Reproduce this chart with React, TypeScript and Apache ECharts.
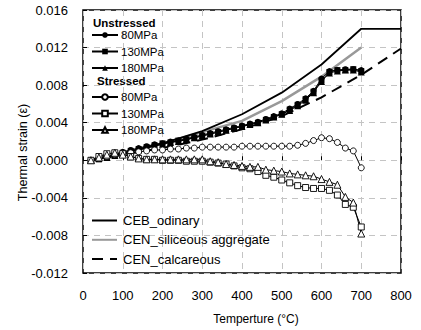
import React, { useEffect, useRef } from "react";
import * as echarts from "echarts";

const TEMPS = [20, 40, 60, 80, 100, 120, 140, 160, 180, 200, 220, 240, 260, 280, 300, 320, 340, 360, 380, 400, 420, 440, 460, 480, 500, 520, 540, 560, 580, 600, 620, 640, 660, 680, 700];

const UNSTRESSED_80 = [0, 0.0002, 0.0004, 0.0006, 0.0009, 0.0011, 0.0013, 0.0015, 0.0017, 0.0018, 0.0020, 0.0021, 0.0023, 0.0025, 0.0027, 0.0029, 0.0031, 0.0033, 0.0035, 0.0037, 0.0039, 0.0041, 0.0044, 0.0047, 0.0050, 0.0055, 0.0060, 0.0066, 0.0074, 0.0087, 0.0095, 0.0096, 0.0097, 0.0097, 0.0096];
const UNSTRESSED_130 = [0, 0.0001, 0.0003, 0.0005, 0.0008, 0.0010, 0.0012, 0.0014, 0.0016, 0.0018, 0.0019, 0.0021, 0.0022, 0.0024, 0.0026, 0.0028, 0.0030, 0.0032, 0.0034, 0.0036, 0.0038, 0.0040, 0.0043, 0.0046, 0.0049, 0.0054, 0.0059, 0.0065, 0.0073, 0.0085, 0.0094, 0.0096, 0.0096, 0.0097, 0.0095];
const UNSTRESSED_180 = [0, 0.0002, 0.0003, 0.0005, 0.0007, 0.0009, 0.0011, 0.0013, 0.0015, 0.0017, 0.0019, 0.0020, 0.0022, 0.0024, 0.0026, 0.0028, 0.0030, 0.0032, 0.0034, 0.0036, 0.0038, 0.0040, 0.0043, 0.0046, 0.0049, 0.0053, 0.0058, 0.0064, 0.0072, 0.0084, 0.0093, 0.0095, 0.0096, 0.0096, 0.0094];

const STRESSED_80 = [0, 0.0002, 0.0004, 0.0006, 0.0007, 0.0008, 0.0009, 0.0010, 0.0011, 0.0011, 0.0012, 0.0012, 0.0013, 0.0013, 0.0014, 0.0014, 0.0014, 0.0014, 0.0014, 0.0015, 0.0015, 0.0015, 0.0015, 0.0015, 0.0015, 0.0015, 0.0016, 0.0018, 0.0021, 0.0024, 0.0023, 0.0019, 0.0013, 0.0010, -0.0008];
const STRESSED_130 = [0, 0.0004, 0.0007, 0.0008, 0.0007, 0.0004, 0.0002, 0.0001, 0.0001, 0.0000, 0.0000, 0.0000, -0.0001, -0.0001, -0.0001, -0.0002, -0.0003, -0.0004, -0.0006, -0.0008, -0.0009, -0.0012, -0.0016, -0.0018, -0.0021, -0.0024, -0.0027, -0.0029, -0.0030, -0.0030, -0.0032, -0.0037, -0.0047, -0.0050, -0.0071];
const STRESSED_180 = [0, 0.0003, 0.0006, 0.0008, 0.0006, 0.0004, 0.0002, 0.0001, 0.0001, 0.0001, 0.0001, 0.0001, 0.0001, 0.0001, 0.0001, -0.0001, -0.0002, -0.0004, -0.0005, -0.0006, -0.0007, -0.0007, -0.0010, -0.0011, -0.0012, -0.0014, -0.0015, -0.0016, -0.0017, -0.0020, -0.0023, -0.0026, -0.0039, -0.0045, -0.0078];

const CODE_TEMPS = [20, 100, 200, 300, 400, 500, 600, 700, 800];
const CEB_ORDINARY = [0, 0.0007, 0.0018, 0.0031, 0.0049, 0.0072, 0.0102, 0.0140, 0.0140];
const SILICEOUS_TEMPS = [20, 100, 200, 300, 400, 500, 600, 700];
const CEN_SILICEOUS = [0, 0.0008, 0.0018, 0.0030, 0.0042, 0.0063, 0.0089, 0.0120];
const CEN_CALCAREOUS = [0, 0.0006, 0.0013, 0.0022, 0.0033, 0.0047, 0.0067, 0.0091, 0.0119];

const X_TICKS = [0, 100, 200, 300, 400, 500, 600, 700, 800];
const Y_MIN = -0.012;
const Y_MAX = 0.016;
const Y_STEP = 0.004;

const LABELS: Record<string, string> = {
  U80: "80MPa", U130: "130MPa", U180: "180MPa",
  S80: "80MPa", S130: "130MPa", S180: "180MPa",
  CEB: "CEB_odinary", SIL: "CEN_siliceous aggregate", CAL: "CEN_calcareous",
};

const FONT = "'Liberation Sans', Arial, Helvetica, sans-serif";

const pair = (xs: number[], ys: number[]) => xs.map((x, i) => [x, ys[i]]);

export default function App() {
  const ref = useRef<HTMLDivElement>(null);
  useEffect(() => {
    document.body.style.margin = "0";
    const chart = echarts.init(ref.current!, null, { renderer: "svg" });
    const markerSeries = (name: string, ys: number[], symbol: string, filled: boolean, size: number) => ({
      name,
      type: "line",
      data: pair(TEMPS, ys),
      symbol,
      symbolSize: size,
      showSymbol: true,
      lineStyle: { color: "#000", width: 1 },
      itemStyle: filled
        ? { color: "#000", borderColor: "#000", borderWidth: 0 }
        : { color: "#fff", borderColor: "#000", borderWidth: 0.9 },
      z: 3,
    });
    const lineSeries = (name: string, xs: number[], ys: number[], color: string, width: number, type: any) => ({
      name,
      type: "line",
      data: pair(xs, ys),
      symbol: "none",
      lineStyle: { color, width, type },
      itemStyle: { color },
      z: 2,
    });
    const legendBase = {
      orient: "vertical",
      padding: 0,
      itemWidth: 26,
      itemHeight: 7,
      itemGap: 4.5,
      itemGap2: 0,
      selectedMode: false,
      formatter: (n: string) => LABELS[n],
      textStyle: { fontFamily: FONT, fontSize: 11.5, color: "#000", padding: [0, 0, 0, -2] },
    };
    chart.setOption({
      animation: false,
      backgroundColor: "#fff",
      grid: { left: 83, right: 20, top: 10, bottom: 57, show: true, borderColor: "#000", borderWidth: 1.5, backgroundColor: "transparent" },
      xAxis: {
        type: "value",
        min: X_TICKS[0],
        max: X_TICKS[X_TICKS.length - 1],
        interval: 100,
        axisLine: { show: false },
        axisTick: { show: true, inside: true, length: 4, lineStyle: { color: "#000", width: 1 } },
        axisLabel: { margin: 16, fontFamily: FONT, fontSize: 13, color: "#000" },
        splitLine: { show: true, lineStyle: { color: "#c4c4c4", width: 1, type: [6, 5] } },
      },
      yAxis: {
        type: "value",
        min: Y_MIN,
        max: Y_MAX,
        interval: Y_STEP,
        axisLine: { show: false },
        axisTick: { show: true, inside: true, length: 4, lineStyle: { color: "#000", width: 1 } },
        axisLabel: { margin: 15, fontFamily: FONT, fontSize: 13, color: "#000", formatter: (v: number) => v.toFixed(3) },
        splitLine: { show: true, lineStyle: { color: "#c4c4c4", width: 1, type: [6, 5] } },
      },
      legend: [
        { ...legendBase, left: 91, top: 29, data: ["U80", "U130", "U180"] },
        { ...legendBase, left: 91, top: 91, data: ["S80", "S130", "S180"] },
        {
          ...legendBase,
          left: 91,
          top: 214,
          itemWidth: 25,
          itemHeight: 7,
          itemGap: 6.3,
          textStyle: { fontFamily: FONT, fontSize: 13, color: "#000", padding: [0, 0, 0, 1] },
          data: [
            { name: "CEB", itemStyle: { opacity: 0 } },
            { name: "SIL", itemStyle: { opacity: 0 } },
            { name: "CAL", itemStyle: { opacity: 0 } },
          ],
        },
      ],
      graphic: [
        { type: "text", left: 93, top: 17, style: { text: "Unstressed", font: `bold 11.5px ${FONT}`, fill: "#000" } },
        { type: "text", left: 97, top: 75, style: { text: "Stressed", font: `bold 11.5px ${FONT}`, fill: "#000" } },
        { type: "text", x: 256, y: 319, style: { text: "Temperture (\u00B0C)", font: `12px ${FONT}`, fill: "#000", align: "center", verticalAlign: "middle" } },
        { type: "text", x: 22.5, y: 152.5, rotation: Math.PI / 2, style: { text: "Thermal strain (\u03B5)", font: `12.5px ${FONT}`, fill: "#000", align: "center", verticalAlign: "middle" } },
      ],
      series: [
        lineSeries("CAL", CODE_TEMPS, CEN_CALCAREOUS, "#000", 2, [11, 7]),
        lineSeries("SIL", SILICEOUS_TEMPS, CEN_SILICEOUS, "#999", 2.5, "solid"),
        lineSeries("CEB", CODE_TEMPS, CEB_ORDINARY, "#000", 1.8, "solid"),
        markerSeries("U80", UNSTRESSED_80, "circle", true, 6),
        markerSeries("U130", UNSTRESSED_130, "rect", true, 6),
        markerSeries("U180", UNSTRESSED_180, "triangle", true, 7),
        markerSeries("S80", STRESSED_80, "circle", false, 6),
        markerSeries("S130", STRESSED_130, "rect", false, 6),
        markerSeries("S180", STRESSED_180, "triangle", false, 7),
      ],
    });
    return () => chart.dispose();
  }, []);
  return <div ref={ref} style={{ width: 421, height: 330 }} />;
}
